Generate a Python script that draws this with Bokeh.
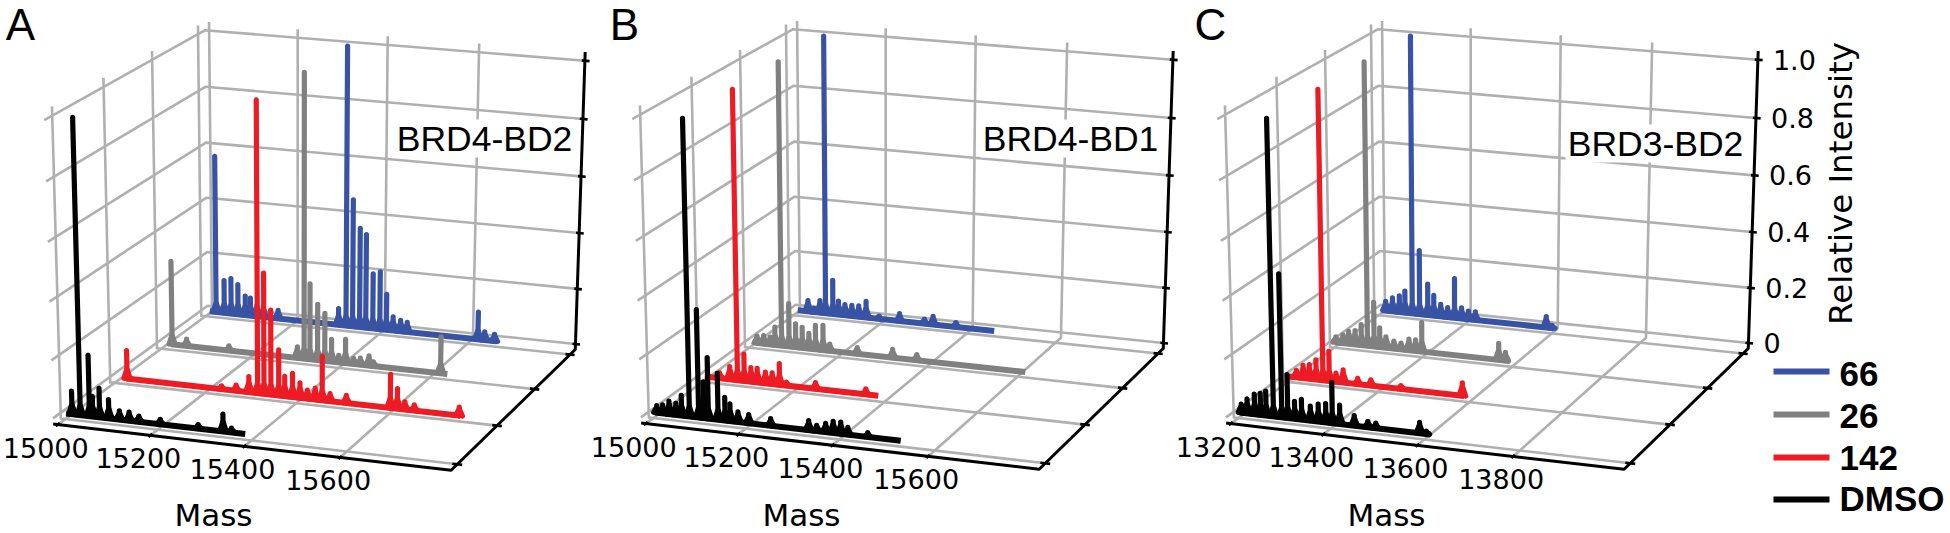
import numpy as np
from bokeh.plotting import figure
from bokeh.models import Range1d
from bokeh.core.properties import value
from bokeh.embed import file_html
from bokeh.resources import INLINE

SERIES = ["66", "26", "142", "DMSO"]
COLORS = ["#3953a4", "#808080", "#ed1c24", "#030303"]
Y_POS = [3, 2, 1, 0]
Z_TICKS = [0, 0.2, 0.4, 0.6, 0.8, 1.0]
Z_LABELS = ["0", "0.2", "0.4", "0.6", "0.8", "1.0"]

# Panel A: mass / relative intensity
A_66_M = [15010, 15025, 15044, 15060, 15076, 15093, 15105, 15120, 15135, 15169, 15308, 15325, 15340, 15356, 15370, 15386, 15402, 15417, 15432, 15449, 15464, 15623, 15638, 15660, 15664]
A_66_I = [0, 0.57, 0.12, 0.13, 0.11, 0.07, 0.065, 0.04, 0.04, 0.03, 0.06, 1.0, 0.46, 0.36, 0.34, 0.2, 0.21, 0.13, 0.05, 0.04, 0.035, 0.1, 0.03, 0.025, 0]
A_26_M = [15023, 15025, 15058, 15154, 15308, 15323, 15336, 15353, 15369, 15384, 15400, 15415, 15433, 15448, 15467, 15477, 15624, 15639]
A_26_I = [0, 0.30, 0.025, 0.017, 0.04, 1.0, 0.27, 0.2, 0.17, 0.08, 0.025, 0.085, 0.02, 0.024, 0.035, 0.015, 0.13, 0]
A_142_M = [15026, 15028, 15237, 15269, 15297, 15316, 15330, 15345, 15362, 15375, 15392, 15408, 15424, 15441, 15456, 15473, 15508, 15602, 15617, 15633, 15653, 15748, 15751]
A_142_I = [0, 0.1, 0.012, 0.02, 0.055, 1.0, 0.42, 0.295, 0.16, 0.07, 0.083, 0.053, 0.03, 0.04, 0.155, 0.027, 0.027, 0.117, 0.07, 0.027, 0.02, 0.03, 0]
A_DMSO_M = [15002, 15015, 15033, 15053, 15060, 15075, 15095, 15118, 15139, 15160, 15206, 15287, 15340, 15358, 15387]
A_DMSO_I = [0, 0.08, 1.0, 0.21, 0.07, 0.1, 0.065, 0.03, 0.03, 0.02, 0.017, 0.014, 0.06, 0.015, 0]

# Panel B
B_66_M = [15010, 15034, 15048, 15062, 15075, 15092, 15105, 15120, 15136, 15152, 15169, 15199, 15246, 15303, 15323, 15375, 15462]
B_66_I = [0, 0.04, 0.015, 0.045, 1.0, 0.125, 0.05, 0.04, 0.04, 0.04, 0.06, 0.01, 0.027, 0.017, 0.03, 0.016, 0]
B_26_M = [15015, 15018, 15033, 15048, 15059, 15074, 15091, 15106, 15121, 15136, 15151, 15168, 15183, 15245, 15324, 15378, 15617]
B_26_I = [0, 0.025, 0.03, 0.027, 0.065, 1.0, 0.155, 0.085, 0.075, 0.055, 0.087, 0.09, 0.025, 0.023, 0.03, 0.02, 0]
B_142_M = [15005, 15038, 15061, 15078, 15093, 15108, 15122, 15140, 15155, 15171, 15186, 15250, 15360, 15387]
B_142_I = [0, 0.02, 0.045, 1.0, 0.095, 0.05, 0.05, 0.04, 0.04, 0.075, 0.012, 0.022, 0.02, 0]
B_DMSO_M = [15004, 15008, 15021, 15035, 15050, 15062, 15079, 15099, 15110, 15120, 15141, 15156, 15167, 15184, 15207, 15254, 15335, 15352, 15371, 15387, 15403, 15418, 15460, 15529]
B_DMSO_I = [0, 0.025, 0.03, 0.045, 0.04, 0.07, 1.0, 0.37, 0.125, 0.21, 0.16, 0.08, 0.06, 0.035, 0.03, 0.025, 0.033, 0.02, 0.03, 0.04, 0.04, 0.025, 0.015, 0]

# Panel C
C_66_M = [13209, 13217, 13233, 13249, 13262, 13279, 13296, 13315, 13329, 13345, 13361, 13377, 13393, 13409, 13425, 13587, 13600, 13604]
C_66_I = [0, 0.035, 0.05, 0.06, 0.08, 1.0, 0.235, 0.115, 0.075, 0.045, 0.035, 0.145, 0.04, 0.03, 0.03, 0.04, 0.01, 0]
C_26_M = [13202, 13204, 13220, 13233, 13248, 13262, 13276, 13291, 13304, 13318, 13336, 13352, 13370, 13385, 13399, 13571, 13586, 13596]
C_26_I = [0, 0.02, 0.03, 0.045, 0.05, 0.075, 1.0, 0.16, 0.07, 0.04, 0.027, 0.023, 0.04, 0.04, 0.105, 0.06, 0.03, 0]
C_142_M = [13203, 13220, 13235, 13249, 13264, 13279, 13293, 13308, 13324, 13356, 13385, 13451, 13585, 13589]
C_142_I = [0, 0.025, 0.045, 0.05, 0.07, 1.0, 0.105, 0.03, 0.045, 0.02, 0.02, 0.012, 0.045, 0]
C_DMSO_M = [13203, 13207, 13220, 13236, 13249, 13261, 13277, 13295, 13308, 13323, 13338, 13357, 13374, 13390, 13404, 13420, 13451, 13480, 13497, 13590, 13604, 13613]
C_DMSO_I = [0, 0.03, 0.05, 0.07, 0.075, 0.085, 1.0, 0.49, 0.15, 0.06, 0.07, 0.05, 0.06, 0.065, 0.14, 0.065, 0.035, 0.02, 0.017, 0.037, 0.01, 0]

X_TICKS_A = [15000, 15200, 15400, 15600]
X_TICKS_C = [13200, 13400, 13600, 13800]

PANELS = [
    dict(letter="A", name="BRD4-BD2", ticks=X_TICKS_A, dx=0, dy=0, letter_xy=(20, 24), name_xy=(484, 138),
         spectra=[(A_66_M, A_66_I), (A_26_M, A_26_I), (A_142_M, A_142_I), (A_DMSO_M, A_DMSO_I)]),
    dict(letter="B", name="BRD4-BD1", ticks=X_TICKS_A, dx=588, dy=-1, letter_xy=(624, 24), name_xy=(1070, 138),
         spectra=[(B_66_M, B_66_I), (B_26_M, B_26_I), (B_142_M, B_142_I), (B_DMSO_M, B_DMSO_I)]),
    dict(letter="C", name="BRD3-BD2", ticks=X_TICKS_C, dx=1173, dy=-1, letter_xy=(1210, 24), name_xy=(1655, 143),
         spectra=[(C_66_M, C_66_I), (C_26_M, C_26_I), (C_142_M, C_142_I), (C_DMSO_M, C_DMSO_I)]),
]

# --- camera: fitted to the box corners of the first panel -------------------
SX, SY = 2.529, 2.93
ZFLOOR, ZTOP = -0.02, 1.03
CAL = [((0, 0, 0), (135, 1225)), ((1, 0, ZFLOOR), (1138, 1378)), ((1, 1, ZFLOOR), (1455, 1020)),
       ((1, 1, 1), (1478, 178)), ((0, 1, 1), (517, 88)), ((0, 1, 0), (522, 895)), ((0, 0, 1), (110, 348))]
rows = []
for (u, v, z), (sx, sy) in CAL:
    X, Y = sx / SX, sy / SY
    rows.append([u, v, z, 1, 0, 0, 0, 0, -X * u, -X * v, -X * z, -X])
    rows.append([0, 0, 0, 0, u, v, z, 1, -Y * u, -Y * v, -Y * z, -Y])
CAM = np.linalg.svd(np.array(rows, dtype=float))[2][-1].reshape(3, 4)


def proj(u, v, z, dx=0, dy=0):
    h = CAM @ np.array([u, v, z, 1.0])
    return h[0] / h[2] + dx, h[1] / h[2] + dy


YMIN, YMAX = -0.15, 3.15


def vfrac(y):
    return (y - YMIN) / (YMAX - YMIN)


p = figure(width=1950, height=533, output_backend="svg", toolbar_location=None,
           x_range=Range1d(0, 1950), y_range=Range1d(533, 0), min_border=0)
p.axis.visible = False
p.grid.visible = False
p.outline_line_color = None

GRID = "#b0b0b0"
AXIS = "#000000"
DEJAVU = value("DejaVu Sans")
LIB = value("Liberation Sans")
SKIRT = 7      # half-width of a peak's foot, in mass units

for panel in PANELS:
    dx, dy = panel["dx"], panel["dy"]
    base = panel["ticks"][0]
    xmin, xmax = base - 10, base + 828

    def ufrac(m):
        return (m - xmin) / (xmax - xmin)

    def P(u, v, z):
        return proj(u, v, z, dx, dy)

    def seg(pts, color, lw, cap="butt"):
        p.line([q[0] for q in pts], [q[1] for q in pts], line_color=color, line_width=lw, line_cap=cap, line_join="round")

    # grid lines
    for z in Z_TICKS:
        seg([P(0, 0, z), P(0, 1, z), P(1, 1, z)], GRID, 2.6)
    for m in panel["ticks"]:
        u = ufrac(m)
        seg([P(u, 0, ZFLOOR), P(u, 1, ZFLOOR), P(u, 1, ZTOP)], GRID, 2.6)
    for y in Y_POS:
        v = vfrac(y)
        seg([P(1, v, ZFLOOR), P(0, v, ZFLOOR), P(0, v, ZTOP)], GRID, 2.6)

    # label box masks the grid
    nx, ny = panel["name_xy"]
    p.quad(left=[nx - 90], right=[nx + 90], top=[ny - 19], bottom=[ny + 19], fill_color="white", line_color=None)

    # spectra, back to front
    for (mass, inten), y, color in zip(panel["spectra"], Y_POS, COLORS):
        v = vfrac(y)
        xs, ys = [], []
        for m, h in zip(mass, inten):
            if h <= 0:
                continue
            # the peak, with a short foot that merges with its neighbours
            foot = min(0.8 * h, 0.035)
            q0 = P(ufrac(m - SKIRT), v, 0)
            q1 = P(ufrac(m), v, foot)
            q2 = P(ufrac(m + SKIRT), v, 0)
            q3, q4 = P(ufrac(m), v, 0), P(ufrac(m), v, h)
            xs += [[q0[0], q1[0], q2[0]], [q3[0], q4[0]]]
            ys += [[q0[1], q1[1], q2[1]], [q3[1], q4[1]]]
        p.multi_line(xs, ys, line_color=color, line_width=5.2, line_cap="round")
        a, b = P(ufrac(mass[0]), v, 0), P(ufrac(mass[-1]), v, 0)
        p.line([a[0], b[0]], [a[1], b[1]], line_color=color, line_width=6, line_cap="butt")

    # black axes
    seg([P(0, 0, ZFLOOR), P(1, 0, ZFLOOR), P(1, 1, ZFLOOR), P(1, 1, ZTOP)], AXIS, 3)
    for m in panel["ticks"]:
        u = ufrac(m)
        seg([P(u, -0.012, ZFLOOR), P(u, 0.012, ZFLOOR)], AXIS, 2.6)
        tx, ty = P(u, 0, ZFLOOR)
        p.text([tx - 12], [ty + 23], text=[str(m)], text_font=DEJAVU, text_font_size=value("27px"),
               text_align="center", text_baseline="middle", text_color="#000000")
    for y in Y_POS:
        v = vfrac(y)
        seg([P(1.0 - 0.012, v, ZFLOOR), P(1.0 + 0.012, v, ZFLOOR)], AXIS, 2.6)
    for z, label in zip(Z_TICKS, Z_LABELS):
        a, b = P(0.992, 1, z), P(1.012, 1, z)
        seg([a, b], AXIS, 2.6)
        if panel["letter"] == "C":
            tx, ty = P(1, 1, z)
            p.text([tx + 15], [ty], text=[label], text_font=DEJAVU, text_font_size=value("27px"),
                   text_align="left", text_baseline="middle", text_color="#000000")

    p.text([213 + dx], [514], text=["Mass"], text_font=DEJAVU, text_font_size=value("31px"),
           text_align="center", text_baseline="middle", text_color="#000000")
    p.text([nx], [ny], text=[panel["name"]], text_font=LIB, text_font_size=value("35.5px"),
           text_align="center", text_baseline="middle", text_color="#000000")
    lx, ly = panel["letter_xy"]
    p.text([lx], [ly], text=[panel["letter"]], text_font=LIB, text_font_size=value("44px"),
           text_align="center", text_baseline="middle", text_color="#000000")

p.text([1840], [183], text=["Relative Intensity"], angle=np.pi / 2, text_font=DEJAVU, text_font_size=value("32.5px"),
       text_align="center", text_baseline="middle", text_color="#000000")

# legend
for name, color, ly, ty in zip(SERIES, COLORS, [371, 414, 457, 499], [373, 415, 457, 498]):
    p.line([1773, 1829], [ly, ly], line_color=color, line_width=6)
    p.text([1839], [ty], text=[name], text_font=LIB, text_font_style="bold", text_font_size=value("35px"),
           text_align="left", text_baseline="middle", text_color="#000000")

open("out.html", "w").write(file_html(p, INLINE))
